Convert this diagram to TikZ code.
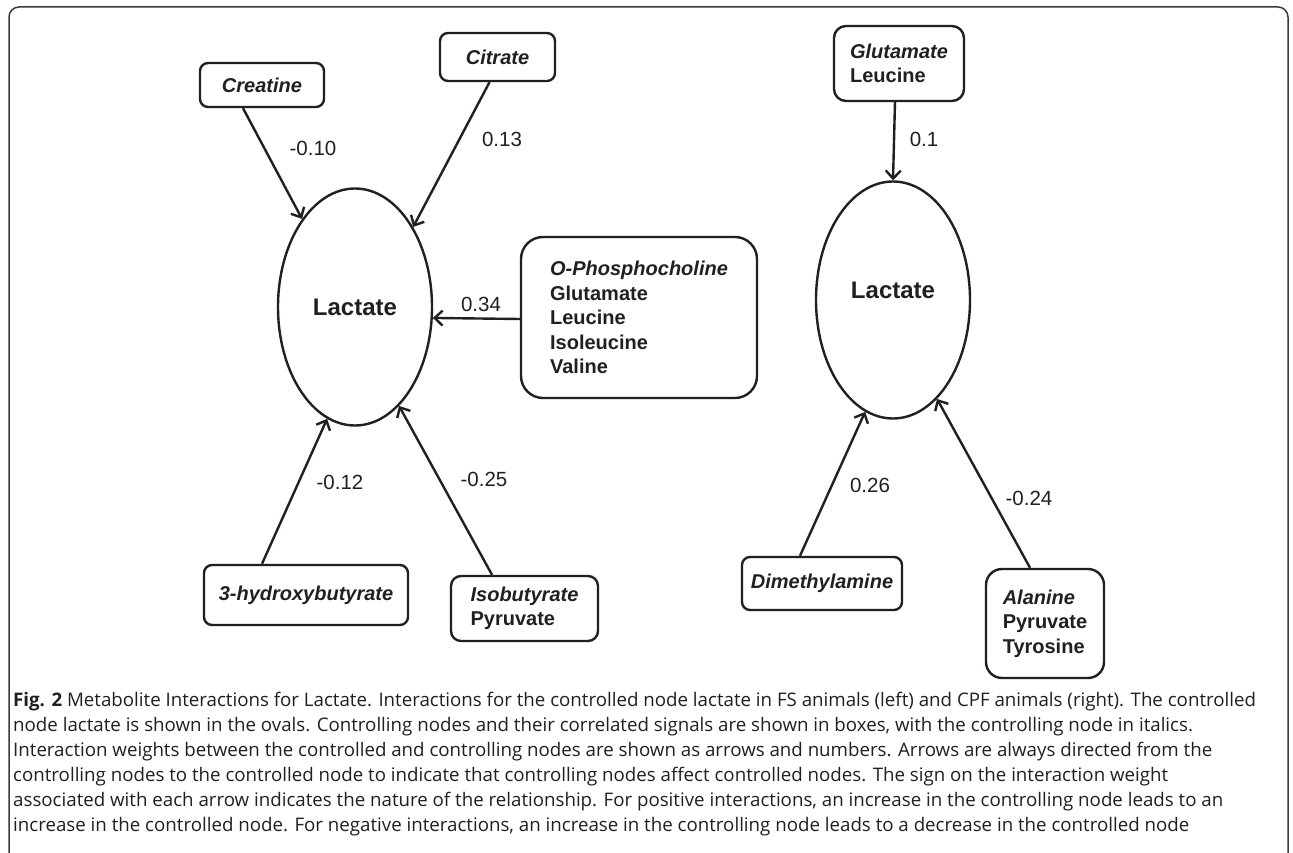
\documentclass[tikz,border=0pt]{standalone}
\usepackage{fontspec}
\setmainfont{Liberation Sans}
\newfontfamily\capfont{Open Sans}
\usetikzlibrary{shapes.geometric,arrows.meta}
\definecolor{ink}{HTML}{231F20}
\definecolor{framec}{HTML}{3A3A3A}
\begin{document}
\begin{tikzpicture}[x=1pt,y=-1pt,line join=round,
  box/.style={draw=ink,line width=2.4pt,rounded corners=8pt,inner sep=2pt,
    font=\fontsize{20}{24.5}\selectfont\bfseries,align=left,text=ink},
  oval/.style={ellipse,draw=ink,line width=2.4pt,minimum width=154pt,
    minimum height=237pt,inner sep=0pt,font=\fontsize{24}{28}\selectfont\bfseries,text=ink},
  wt/.style={font=\fontsize{20.5}{24}\selectfont,text=ink,inner sep=0pt},
  arr/.style={draw=ink,line width=2.4pt,-{Straight Barb[length=8pt,width=15pt]}},
  capline/.style={anchor=base west,inner sep=0pt,text=ink,
    font=\capfont\fontsize{18.7}{25}\selectfont}]
\useasboundingbox (0,0) rectangle (1293,853);
\fill[white] (0,0) rectangle (1293,853);
% frame
\draw[framec,line width=1.5pt,rounded corners=10pt] (9,853) -- (9,7) -- (1288,7) -- (1288,853);

% ---------- left diagram ----------
\node[oval] (lacL) at (355,307) {Lactate};
\node[box,minimum width=124pt,minimum height=44pt] (creatine) at (262,85) {\itshape Creatine};
\node[box,minimum width=115pt,minimum height=48pt] (citrate) at (497.5,57) {\itshape Citrate};
\node[box,rounded corners=22pt,minimum width=236pt,minimum height=161pt] (ophos) at (639,317.5)
  {{\itshape O-Phosphocholine}\\Glutamate\\Leucine\\Isoleucine\\Valine};
\node[box,minimum width=204pt,minimum height=60pt] (hydroxy) at (306,595) {\itshape 3-hydroxybutyrate};
\node[box,rounded corners=10pt,minimum width=147pt,minimum height=65pt] (isobut) at (524.5,608.5)
  {{\itshape Isobutyrate}\\Pyruvate};

\draw[arr] ([xshift=-19pt]creatine.south) -- (lacL.121.9);
\draw[arr] ([xshift=-8pt]citrate.south) -- (lacL.54.1);
\draw[arr] ([yshift=-1.5pt]ophos.west) -- (lacL.-8.7);
\draw[arr] ([xshift=-44pt]hydroxy.north) -- (lacL.256.4);
\draw[arr] ([xshift=-32.5pt]isobut.north) -- (lacL.-66.6);

\node[wt] (wCre) at (313,148) {-0.10};
\node[wt] (wCit) at (502,139) {0.13};
\node[wt] (wOph) at (481,304) {0.34};
\node[wt] (wHyd) at (340,482) {-0.12};
\node[wt] (wIso) at (484,479) {-0.25};

% ---------- right diagram ----------
\node[oval,text depth=19pt] (lacR) at (893,300) {Lactate};
\node[box,rounded corners=12pt,minimum width=130pt,minimum height=75pt] (glu) at (899,63.5)
  {{\itshape Glutamate}\\Leucine};
\node[box,minimum width=160pt,minimum height=53pt] (dimeth) at (822,583.5) {\itshape Dimethylamine};
\node[box,rounded corners=16pt,minimum width=118pt,minimum height=109pt] (alanine) at (1045,623.5)
  {{\itshape Alanine}\\Pyruvate\\Tyrosine};

\draw[arr] ([xshift=-4pt]glu.south) -- (lacR.90);
\draw[arr] ([xshift=-22pt]dimeth.north) -- (lacR.-104.4);
\draw[arr] ([xshift=-15pt]alanine.north) -- (lacR.-66.9);

\node[wt] (wGlu) at (924,139) {0.1};
\node[wt] (wDim) at (870,485) {0.26};
\node[wt] (wAla) at (1029,498) {-0.24};

% ---------- caption ----------
\node[capline] (c1) at (13,706) {\textbf{Fig. 2} Metabolite Interactions for Lactate. Interactions for the controlled node lactate in FS animals (left) and CPF animals (right). The controlled};
\node[capline] (c2) at (13,731) {node lactate is shown in the ovals. Controlling nodes and their correlated signals are shown in boxes, with the controlling node in italics.};
\node[capline] (c3) at (13,756) {Interaction weights between the controlled and controlling nodes are shown as arrows and numbers. Arrows are always directed from the};
\node[capline] (c4) at (13,781) {controlling nodes to the controlled node to indicate that controlling nodes affect controlled nodes. The sign on the interaction weight};
\node[capline] (c5) at (13,806) {associated with each arrow indicates the nature of the relationship. For positive interactions, an increase in the controlling node leads to an};
\node[capline] (c6) at (13,831) {increase in the controlled node. For negative interactions, an increase in the controlling node leads to a decrease in the controlled node};
\end{tikzpicture}
\end{document}
